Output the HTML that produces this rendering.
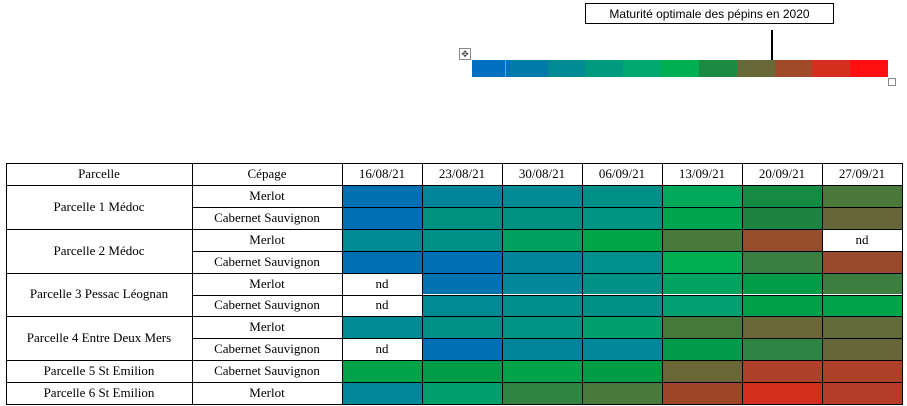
<!DOCTYPE html>
<html><head><meta charset="utf-8"><style>
body{margin:0;width:907px;height:406px;background:#fff;position:relative;overflow:hidden;font-family:"Liberation Serif",serif;}
.c{position:absolute;box-sizing:border-box;display:flex;align-items:center;justify-content:center;font-size:13px;color:#000;}
.bl{position:absolute;background:#000;}
</style></head><body>
<div style="position:absolute;left:585px;top:3px;width:249px;height:21px;border:1px solid #000;box-sizing:border-box;font:12px 'Liberation Sans',sans-serif;display:flex;align-items:center;justify-content:center;">Maturité optimale des pépins en 2020</div>
<div style="position:absolute;left:771px;top:30px;width:2px;height:42px;background:#000"></div>
<div style="position:absolute;left:769px;top:69px;width:6px;height:6px;background:#000;transform:rotate(45deg)"></div>
<div style="position:absolute;left:459px;top:48px;width:10px;height:10px;border:1px solid #888;font-size:9px;line-height:10px;text-align:center;color:#444">✥</div>
<div style="position:absolute;left:888px;top:78px;width:6px;height:6px;border:1px solid #888"></div>
<div id="bar"></div>
<div id="tbl"></div>
<script>
const scale=["#0070c0","#007aa8","#008a94","#009a80","#00a870","#00b050","#1c8a40","#676a38","#a04a28","#d42e1e","#ff1010"];
const dates=["16/08/21","23/08/21","30/08/21","06/09/21","13/09/21","20/09/21","27/09/21"];
const parcels=["Parcelle 1 Médoc","Parcelle 2 Médoc","Parcelle 3 Pessac Léognan","Parcelle 4 Entre Deux Mers","Parcelle 5 St Emilion","Parcelle 6 St Emilion"];
const parcelRows=[2,2,2,2,1,1];
const cepages=["Merlot","Cabernet Sauvignon","Merlot","Cabernet Sauvignon","Merlot","Cabernet Sauvignon","Merlot","Cabernet Sauvignon","Cabernet Sauvignon","Merlot"];
const cells=[
["#0070b0","#00849a","#008a94","#009088","#00a85a","#148a42","#4a773a"],
["#0070b4","#009080","#009280","#009482","#00a550","#1c8440","#66663a"],
["#008a94","#009088","#00a060","#00a548","#487a3c","#944e2c","nd"],
["#0070b4","#0070b4","#00849a","#008f8a","#00b050","#3a7e40","#9a4a2c"],
["nd","#0073b0","#00889a","#009088","#00a460","#009c48","#3c7e40"],
["nd","#008a94","#008e8c","#009088","#00a070","#00a048","#00a448"],
["#008a94","#009088","#009484","#00a06c","#467a3c","#6a6636","#626a3a"],
["nd","#0070b4","#00849a","#00889a","#009a4a","#2e8442","#66663a"],
["#00a448","#009c48","#00a448","#009c44","#6a6636","#ac4028","#ac4028"],
["#00889a","#00a06c","#308440","#487a3c","#a04628","#d42e1e","#b43c28"]];
function add(p,l,t,w,h,bg,txt,name){const d=document.createElement('div');d.className='c';


d.style.cssText+=`left:${l}px;top:${t}px;width:${w}px;height:${h}px;background:${bg}`;if(txt)d.textContent=txt;p.appendChild(d);return d;}
const bar=document.getElementById('bar');const bx=472,bw=416/scale.length;
scale.forEach((c,i)=>add(bar,bx+i*bw,60,bw+0.5,17,c,'','scale-segment'));
const o=add(bar,505,60,1,17,'#f08020','','scale-marker-line');
const tb=document.getElementById('tbl');
const colX=[6,192,342,422,502,582,662,742,822,902];
const top0=163,hh=22,rh=(404-185)/10;
const rowY=i=>185+i*rh;
add(tb,6,top0,186,hh,'#fff','Parcelle','header-parcelle');
add(tb,192,top0,150,hh,'#fff','Cépage','header-cepage');
dates.forEach((d,j)=>add(tb,colX[j+2],top0,80,hh,'#fff',d,'header-date'));
let r=0;parcels.forEach((p,i)=>{add(tb,6,rowY(r),186,rh*parcelRows[i],'#fff',p,'parcel-label');r+=parcelRows[i];});
cepages.forEach((c,i)=>{add(tb,192,rowY(i),150,rh,'#fff',c,'cepage-label');
cells[i].forEach((v,j)=>add(tb,colX[j+2],rowY(i),80,rh,v==='nd'?'#fff':v,v==='nd'?'nd':'','maturity-cell'));});
function line(l,t,w,h){const d=document.createElement('div');d.className='bl';


d.style.cssText=`left:${l}px;top:${t}px;width:${w}px;height:${h}px`;tb.appendChild(d);}
colX.forEach(x=>line(x,top0,1,404-top0+1));
line(6,top0,897,1);line(6,185,897,1);
for(let i=1;i<=10;i++)line(192,rowY(i),711,1);
r=0;parcels.forEach((p,i)=>{r+=parcelRows[i];line(6,rowY(r),186,1);});
</script>
</body></html>
